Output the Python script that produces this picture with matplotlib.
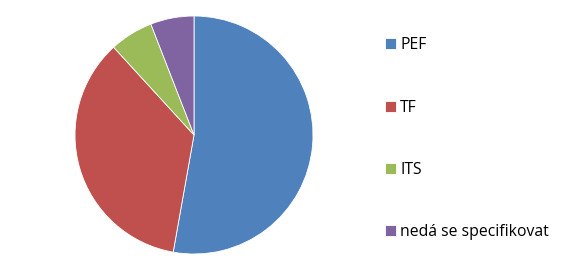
import matplotlib.pyplot as plt

labels = ['PEF', 'TF', 'ITS', 'nedá se specifikovat']
values = [52.8, 35.4, 5.9, 5.9]
colors = ['#4F81BD', '#C0504D', '#9BBB59', '#8064A2']

plt.rcParams['font.family'] = ['Open Sans', 'DejaVu Sans']

fig = plt.figure(figsize=(5.72, 2.67), dpi=100)
ax = fig.add_axes([75 / 572, 13 / 267, 238 / 572, 238 / 267])
wedges, _ = ax.pie(values, colors=colors, startangle=90, counterclock=False,
                   wedgeprops=dict(edgecolor='white', linewidth=0.6))
ax.set_xlim(-1.0, 1.0)
ax.set_ylim(-1.0, 1.0)
ax.set_aspect('equal')

fig.legend(wedges, labels, loc='upper left', bbox_to_anchor=(379 / 572, 1 - 31 / 267),
           frameon=False, fontsize=11.3, handlelength=0.7, handleheight=0.7,
           handletextpad=0.25, labelspacing=2.95, borderaxespad=0)

fig.savefig('out.png', dpi=100)
